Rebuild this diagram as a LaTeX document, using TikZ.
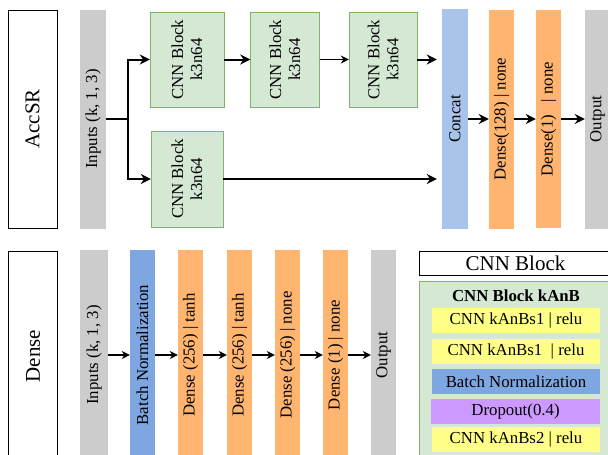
\documentclass[tikz,border=0pt]{standalone}
\usepackage{fontspec}
\setmainfont{Liberation Serif}
\usepackage{tikz}
\usetikzlibrary{arrows.meta, positioning}
\definecolor{graybar}{HTML}{CCCCCC}
\definecolor{greenbox}{HTML}{D5E8D4}
\definecolor{greenline}{HTML}{82B366}
\definecolor{concatbox}{HTML}{A9C4EB}
\definecolor{densebox}{HTML}{FFB570}
\definecolor{normbox}{HTML}{7EA6E0}
\definecolor{dropbox}{HTML}{CC99FF}
\definecolor{convbox}{HTML}{FFFF88}
\newcommand{\txtsize}{\fontsize{16.8}{19}\selectfont}
\newcommand{\hdsize}{\fontsize{21}{24}\selectfont}

\begin{document}
\begin{tikzpicture}[
  x=1pt, y=-1pt,
  bar/.style={rectangle, rotate=90, inner sep=0pt, minimum width=219pt,
    minimum height=25pt, font=\txtsize},
  lowbar/.style={bar, minimum width=210pt},
  cnnblock/.style={rectangle, rotate=90, draw=greenline, fill=greenbox,
    inner sep=0pt, minimum width=95pt, align=center, font=\txtsize},
  sidetag/.style={rectangle, rotate=90, draw=black, thick, fill=white,
    inner sep=0pt, minimum height=49pt, font=\hdsize},
  layerrow/.style={rectangle, inner sep=0pt, minimum width=168pt,
    minimum height=25pt, font=\txtsize},
  arr/.style={-{Stealth[length=10pt,width=10pt]}, line width=2pt},
  arrthin/.style={-{Stealth[length=8pt,width=8pt]}, line width=1.2pt}
]
  \useasboundingbox (0,0) rectangle (608,455);

  %% AccSR model
  \node[sidetag, minimum width=218pt] (accsr) at (32.5,119) {AccSR};
  \node[bar, fill=graybar, minimum height=26pt] (in1) at (93,119) {Inputs (k, 1, 3)};
  \node[cnnblock, minimum height=74pt] (cnn1) at (187,59.5) {CNN Block\\k3n64};
  \node[cnnblock, minimum height=69pt] (cnn2) at (285,59.5) {CNN Block\\k3n64};
  \node[cnnblock, minimum height=68pt] (cnn3) at (383,59.5) {CNN Block\\k3n64};
  \node[cnnblock, minimum height=72pt, minimum width=96pt] (cnn4) at (187,179) {CNN Block\\k3n64};
  \node[bar, fill=concatbox, minimum width=220pt, minimum height=26pt] (concat) at (455,119) {Concat};
  \node[bar, fill=densebox] (d128) at (501.5,119) {Dense(128) | none};
  \node[bar, fill=densebox, minimum width=218pt] (d1) at (548.5,119) {Dense(1)\ \ \ | none};
  \node[bar, fill=graybar] (out1) at (597.5,119) {Output};

  \draw[line width=2pt] (in1.south) -- ++(22,0) coordinate (split);
  \draw[arr] (split) |- (cnn1.north);
  \draw[arr] (split) |- (cnn4.north);
  \draw[arr] (cnn1.south) -- (cnn2.north);
  \draw[arrthin] (cnn2.south) -- (cnn3.north);
  \draw[arr, shorten >=5pt] (cnn3.south) -- (cnn3.south -| concat.north);
  \draw[arr, shorten >=5pt] (cnn4.south) -- (cnn4.south -| concat.north);
  \draw[arr] (concat.south) -- (d128.north);
  \draw[arr] (d128.south) -- (d1.north);
  \draw[arr] (d1.south) -- (out1.north);

  %% Dense model
  \node[sidetag, minimum width=210pt] (dense) at (33,356) {Dense};
  \node[lowbar, fill=graybar, minimum height=28pt] (in2) at (94,355) {Inputs (k, 1, 3)};
  \node[lowbar, fill=normbox] (bn) at (142.5,355) {Batch Normalization};
  \node[lowbar, fill=densebox] (da) at (190.5,355) {Dense (256) | tanh};
  \node[lowbar, fill=densebox] (db) at (239.5,355) {Dense (256) | tanh};
  \node[lowbar, fill=densebox] (dc) at (287.5,355) {Dense (256) | none};
  \node[lowbar, fill=densebox] (dd) at (335.5,355) {Dense (1) | none};
  \node[lowbar, fill=graybar] (out2) at (383.5,355) {Output};

  \draw[arrthin] (in2.south) -- (bn.north);
  \draw[arrthin] (bn.south) -- (da.north);
  \draw[arrthin] (da.south) -- (db.north);
  \draw[arrthin] (db.south) -- (dc.north);
  \draw[arrthin] (dc.south) -- (dd.north);
  \draw[arrthin] (dd.south) -- (out2.north);

  %% CNN block legend
  \node[draw=black, thick, fill=white, inner sep=0pt, minimum width=193pt,
    minimum height=24pt, font=\hdsize] (cnnhead) at (515.5,263) {CNN Block};
  \node[draw=greenline, fill=greenbox, thick, inner sep=0pt, minimum width=193pt,
    minimum height=179pt] (cnnbody) at (515.5,370.5) {};
  \node[font=\txtsize\bfseries] (kanb) at (516,296) {CNN Block kAnB};
  \node[layerrow, fill=convbox] (conv1) at (516,320.5) {CNN kAnBs1 | relu};
  \node[layerrow, fill=convbox] (conv2) at (516,351.5) {CNN kAnBs1 \ | relu};
  \node[layerrow, fill=normbox] (norm) at (516,381.5) {Batch Normalization};
  \node[layerrow, fill=dropbox, minimum width=169pt] (drop) at (515.5,411.5) {Dropout(0.4)};
  \node[layerrow, fill=convbox] (conv3) at (516,439.5) {CNN kAnBs2 | relu};
\end{tikzpicture}
\end{document}
